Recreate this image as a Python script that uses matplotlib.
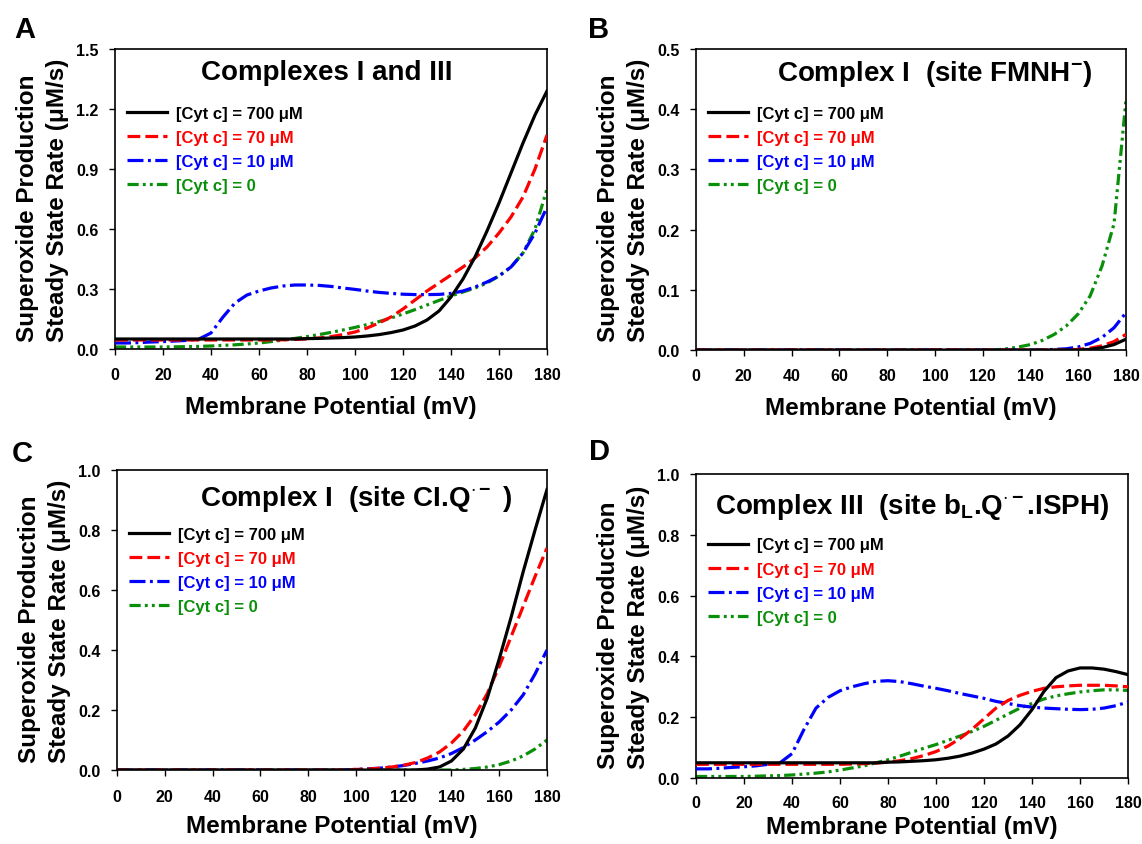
import matplotlib
matplotlib.use('Agg')
import matplotlib.pyplot as plt

plt.rcParams['font.family'] = ['Liberation Sans', 'DejaVu Sans']
plt.rcParams['font.weight'] = 'bold'
plt.rcParams['axes.labelweight'] = 'bold'
plt.rcParams['mathtext.fontset'] = 'custom'
plt.rcParams['mathtext.rm'] = 'Liberation Sans:bold'
plt.rcParams['mathtext.bf'] = 'Liberation Sans:bold'
plt.rcParams['mathtext.it'] = 'Liberation Sans:bold'
plt.rcParams['mathtext.default'] = 'rm'

# membrane potential (mV)
potential = [0, 5, 10, 15, 20, 25, 30, 35, 40, 45, 50, 55, 60, 65, 70, 75, 80, 85, 90,
             95, 100, 105, 110, 115, 120, 125, 130, 135, 140, 145, 150, 155, 160, 165,
             170, 175, 180]

labels = ['[Cyt c] = 700 \u03bcM', '[Cyt c] = 70 \u03bcM', '[Cyt c] = 10 \u03bcM', '[Cyt c] = 0']

# A: complexes I and III
a_700 = [.05] * 16 + [.052, .053, .055, .057, .06, .065, .072, .082, .095, .115, .145, .19,
                      .26, .35, .46, .59, .73, .88, 1.03, 1.17, 1.29]
a_70 = [.045] * 13 + [.045, .046, .048, .05, .055, .062, .072, .085, .105, .13, .16, .2,
                      .245, .29, .33, .37, .41, .455, .51, .58, .66, .76, .9, 1.07]
a_10 = [.03, .03, .032, .035, .037, .04, .043, .05, .08, .16, .23, .27, .29, .305, .315,
        .32, .32, .318, .313, .305, .298, .29, .283, .278, .274, .272, .272, .273, .278,
        .29, .31, .335, .365, .41, .48, .58, .71]
a_0 = [.01, .01, .01, .01, .01, .011, .012, .013, .015, .018, .021, .025, .03, .037, .045,
       .053, .062, .072, .083, .095, .108, .122, .137, .155, .175, .197, .22, .243, .265,
       .285, .305, .33, .365, .41, .48, .6, .8]

# B: complex I, site FMNH-
b_700 = [0.0] * 33 + [.001, .004, .009, .018]
b_70 = [0.0] * 32 + [.001, .003, .007, .014, .026]
b_10 = [0.0] * 30 + [.001, .002, .005, .011, .021, .037, .062]
b_0 = [0.0] * 26 + [.002, .005, .009, .016, .026, .04, .06, .09, .14, .21, .415]

# C: complex I, site CI.Q-
c_700 = [0.0] * 26 + [.003, .01, .03, .07, .14, .24, .37, .51, .66, .80, .935]
c_70 = [0.0] * 20 + [.002, .003, .006, .01, .016, .025, .04, .06, .09, .13, .185, .255,
                     .345, .445, .545, .645, .74]
c_10 = [0.0] * 20 + [.002, .004, .006, .01, .015, .022, .03, .04, .055, .075, .10, .128,
                     .16, .2, .25, .32, .40]
c_0 = [0.0] * 29 + [.002, .005, .01, .018, .03, .047, .07, .10]

# D: complex III, site bL.Q-.ISPH
d_700 = [.05] * 16 + [.052, .053, .055, .057, .06, .065, .072, .082, .095, .112, .138, .175,
                      .225, .285, .33, .352, .362, .362, .358, .35, .34]
d_70 = [.045] * 13 + [.046, .047, .049, .052, .057, .064, .074, .087, .105, .13, .16, .195,
                      .23, .255, .272, .285, .295, .30, .303, .305, .305, .305, .303, .30]
d_10 = [.03, .03, .032, .035, .037, .04, .045, .05, .08, .16, .23, .265, .287, .3, .31,
        .318, .32, .317, .31, .302, .295, .287, .278, .27, .262, .252, .245, .238, .233,
        .23, .228, .226, .225, .226, .23, .238, .25]
d_0 = [.005, .005, .005, .005, .005, .006, .007, .008, .01, .013, .016, .02, .026, .033,
       .04, .05, .06, .072, .085, .098, .11, .124, .138, .153, .17, .19, .21, .23, .245,
       .26, .27, .277, .283, .287, .29, .29, .288]

colors = ['black', '#ff0000', '#0000ff', '#0a8f0a']
styles = ['-', (0, (4, 1.6)), (0, (5, 1.4, 0.9, 1.4)), (0, (3.5, 1.3, 0.9, 1.3, 0.9, 1.3))]

W, H = 1142, 845
fig = plt.figure(figsize=(W / 100, H / 100), dpi=100)
fig.patch.set_facecolor('white')


def panel(rect, series, ymax, ystep, title, tpos, letter, lpos, legy, xpad, lpad):
    l, t, r, b = rect
    ax = fig.add_axes([l / W, 1 - b / H, (r - l) / W, (b - t) / H])
    for i, ys in enumerate(series):
        ax.plot(potential, ys, color=colors[i], linestyle=styles[i], lw=2.3,
                label=labels[i], zorder=5 - i)
    ax.set_xlim(0, 180)
    ax.set_ylim(0, ymax)
    ax.set_xticks(range(0, 181, 20))
    n = int(round(ymax / ystep))
    ax.set_yticks([k * ystep for k in range(n + 1)])
    ax.set_yticklabels(['%.1f' % (k * ystep) for k in range(n + 1)])
    ax.tick_params(direction='out', length=4, width=1, labelsize=11.5)
    ax.tick_params(axis='x', pad=xpad)
    ax.tick_params(axis='y', pad=8)
    for s in ax.spines.values():
        s.set_linewidth(1.2)
    ax.set_xlabel('Membrane Potential (mV)', fontsize=17.5, labelpad=lpad)
    ax.set_ylabel('Superoxide Production\nSteady State Rate (\u03bcM/s)', fontsize=17.5,
                  labelpad=5, multialignment='left', linespacing=1.4)
    ax.text(tpos[0], tpos[1], title, transform=ax.transAxes, ha='center', va='center',
            fontsize=20)
    leg = ax.legend(loc='upper left', bbox_to_anchor=(0.0, legy), frameon=False,
                    fontsize=12, handlelength=2.4, handletextpad=0.55, labelspacing=0.55,
                    borderaxespad=0.3)
    for txt, c in zip(leg.get_texts(), colors):
        txt.set_color(c)
    fig.text(lpos[0] / W, 1 - lpos[1] / H, letter, fontsize=21, ha='left',
             va='baseline')
    return ax


panel((115, 50, 547, 350), [a_700, a_70, a_10, a_0], 1.5, 0.3,
      'Complexes I and III', (0.49, 0.925), 'A', (14, 38), 0.85, 9, 9)
panel((696, 50, 1126, 351), [b_700, b_70, b_10, b_0], 0.5, 0.1,
      'Complex I  (site FMNH$^{-}$)', (0.555, 0.92), 'B', (588, 38), 0.85, 9, 9)
panel((117, 471, 547, 771), [c_700, c_70, c_10, c_0], 1.0, 0.2,
      'Complex I  (site CI.Q$^{\\cdot-}$ )', (0.555, 0.905), 'C', (12, 462), 0.85, 10, 7)
panel((696, 475, 1128, 779), [d_700, d_70, d_10, d_0], 1.0, 0.2,
      'Complex III  (site b$_{L}$.Q$^{\\cdot-}$.ISPH)', (0.5, 0.895), 'D', (589, 460), 0.83, 8, 4)

fig.savefig('out.png', dpi=100)
